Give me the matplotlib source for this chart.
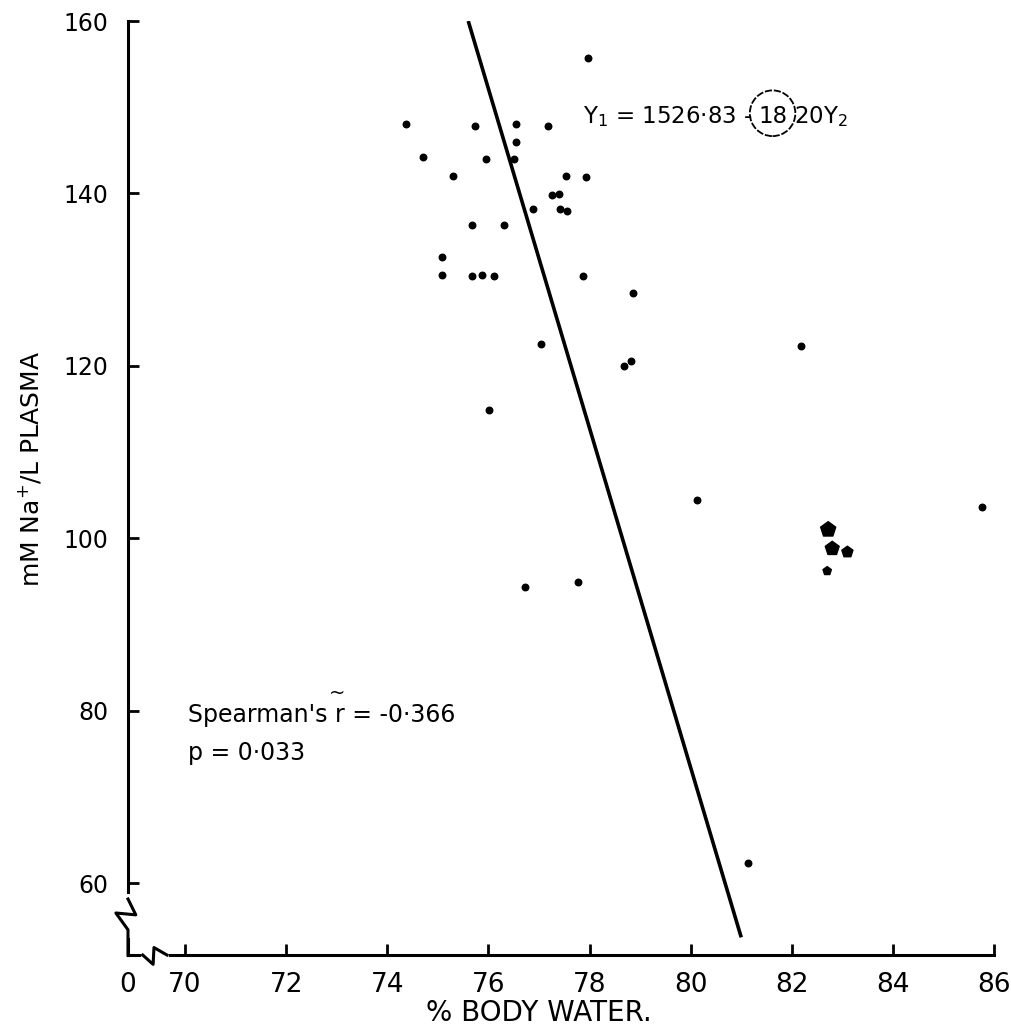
import matplotlib.pyplot as plt
from matplotlib.patches import Ellipse

# % body water vs plasma sodium
water = [74.37, 75.73, 76.54, 77.17, 76.54, 74.70, 75.95, 76.50, 75.30, 77.53,
         77.92, 77.25, 77.39, 76.88, 77.41, 77.55, 75.67, 76.30, 75.08, 75.08,
         75.67, 75.87, 76.11, 77.87, 78.85, 77.96, 77.04, 78.81, 78.68, 82.19,
         76.01, 80.12, 76.72, 77.77, 81.13, 85.77]
sodium = [148.0, 147.8, 148.0, 147.8, 146.0, 144.2, 144.0, 144.0, 142.0, 142.0,
          141.9, 139.8, 139.9, 138.2, 138.2, 138.0, 136.3, 136.3, 132.6, 130.5,
          130.4, 130.5, 130.4, 130.4, 128.5, 155.7, 122.5, 120.6, 120.0, 122.3,
          114.9, 104.4, 94.3, 94.9, 62.3, 103.6]

# ink blot on the original print
blot_x = [82.72, 82.80, 83.10, 82.70]
blot_y = [101.0, 98.8, 98.4, 96.2]
blot_s = [130, 110, 70, 40]

# fitted line as drawn
line_x = [75.6, 81.0]
line_y = [160.0, 53.7]

xticks = [70, 72, 74, 76, 78, 80, 82, 84, 86]
yticks = [60, 80, 100, 120, 140, 160]
x_lo, y_lo = 68.87, 51.65

fig = plt.figure(figsize=(10.11, 10.30), dpi=100)
ax = fig.add_axes([0.1266, 0.0728, 0.8566, 0.9068])

ax.plot(line_x, line_y, color='black', lw=2.6, solid_capstyle='butt')
ax.scatter(water, sodium, s=22, color='black', zorder=3)
ax.scatter(blot_x, blot_y, s=blot_s, color='black', marker='p', zorder=3)

ax.set_xlim(x_lo, 86)
ax.set_ylim(y_lo, 160)
for side in ['top', 'right']:
    ax.spines[side].set_visible(False)
for side in ['left', 'bottom']:
    ax.spines[side].set_linewidth(2.2)

ax.set_xticks([x_lo] + xticks)
ax.set_xticklabels(['0'] + [str(t) for t in xticks], family='Liberation Sans Narrow', fontsize=19)
ax.set_yticks(yticks)
ax.set_yticklabels([str(t) for t in yticks], fontsize=17)
ax.tick_params(direction='in', length=8, width=2, pad=12)
ax.tick_params(axis='y', pad=14)

# axis breaks near the origin
ax.plot([0, 0], [0.062, 0.022], transform=ax.transAxes,
        color='white', lw=5, clip_on=False, zorder=4)
ax.plot([0, 0.009, -0.014, 0, 0], [0.060, 0.043, 0.045, 0.027, 0.0],
        transform=ax.transAxes, color='black', lw=2.2, clip_on=False, zorder=5)
ax.plot([0.018, 0.044], [0.0, 0.0], transform=ax.transAxes,
        color='white', lw=4, clip_on=False, zorder=4)
ax.plot([0.017, 0.029, 0.030, 0.045], [0.0, -0.010, 0.008, 0.0],
        transform=ax.transAxes, color='black', lw=2.2, clip_on=False, zorder=5)

ax.set_xlabel('% BODY WATER.', fontsize=20, family='Liberation Sans Narrow')
ax.xaxis.set_label_coords(0.475, -0.047)
ax.set_ylabel('mM Na$^{+}$/L PLASMA', fontsize=18, family='Liberation Sans Narrow')
ax.yaxis.set_label_coords(-0.098, 0.52)

ax.text(70.06, 79.5, "Spearman's r = -0·366", fontsize=17, va='center')
ax.text(73.0, 82.0, '~', fontsize=14, va='center', ha='center')
ax.text(70.06, 75.1, 'p = 0·033', fontsize=17, va='center')

# equation, with the slope figure ringed as on the original
ax.text(81.22, 148.9, 'Y$_1$ = 1526·83 -', fontsize=16.5, va='center', ha='right')
ax.text(81.62, 148.9, '18', fontsize=16.5, va='center', ha='center')
ax.text(82.04, 148.9, '20Y$_2$', fontsize=16.5, va='center', ha='left')
ax.add_patch(Ellipse((81.62, 149.3), 0.9, 5.3, fill=False, lw=1.3, ls=(0, (4, 1))))

fig.savefig('out.png', dpi=100)
